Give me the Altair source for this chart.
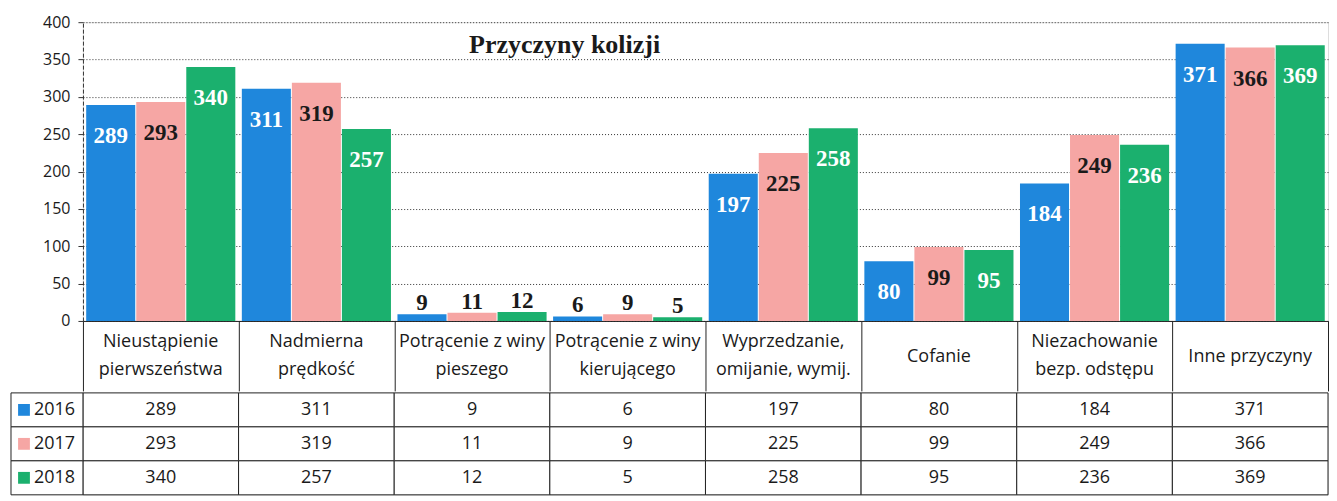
import altair as alt
import pandas as pd

# ---- data ----
categories = [
    "Nieustąpienie\npierwszeństwa",
    "Nadmierna\nprędkość",
    "Potrącenie z winy\npieszego",
    "Potrącenie z winy\nkierującego",
    "Wyprzedzanie,\nomijanie, wymij.",
    "Cofanie",
    "Niezachowanie\nbezp. odstępu",
    "Inne przyczyny",
]
years = ["2016", "2017", "2018"]
v2016 = [289, 311, 9, 6, 197, 80, 184, 371]
v2017 = [293, 319, 11, 9, 225, 99, 249, 366]
v2018 = [340, 257, 12, 5, 258, 95, 236, 369]
y_ticks = [0, 50, 100, 150, 200, 250, 300, 350, 400]
title_text = "Przyczyny kolizji"

# ---- styling ----
colors = ["#1f87dc", "#f6a6a4", "#1bb06e"]
ink = "#1a1a1a"
W = 1246
H = 299
HEADER = 70
ROWS_H = 102
LEFT = 72

rows = []
for yr, vals in zip(years, [v2016, v2017, v2018]):
    for c, v in zip(categories, vals):
        rows.append({"category": c, "year": yr, "value": v})
df = pd.DataFrame(rows)

color_scale = alt.Scale(domain=years, range=colors)
cat_scale = alt.Scale(domain=categories, paddingInner=0, paddingOuter=0)

# x axis draws the header row of the table: its domain is the top border and
# its (band-extent) ticks are the column separators; labels are drawn as text marks
x_axis = alt.Axis(
    title=None, orient="bottom", labels=False,
    tickSize=HEADER, tickBand="extent", tickColor="#222", tickWidth=1,
    domainColor="#222", domainWidth=1, grid=False,
)
y_axis = alt.Axis(
    title=None, values=y_ticks,
    labelFont="Open Sans", labelFontSize=16, labelColor=ink, labelPadding=8,
    tickSize=5, tickColor="#333",
    domainColor="#333", domainDash=[4, 2],
    grid=True, gridColor="#333", gridDash=[1, 2], gridWidth=1,
    minExtent=LEFT, maxExtent=LEFT,
)
x_enc = alt.X("category:N", sort=categories, scale=cat_scale, axis=x_axis)

base = alt.Chart(df).encode(
    x=x_enc,
    xOffset=alt.XOffset("year:N", sort=years,
                        scale=alt.Scale(domain=years, paddingInner=0.02, paddingOuter=0.065)),
    y=alt.Y("value:Q", scale=alt.Scale(domain=[0, 400]), axis=y_axis),
)

bars = base.mark_bar().encode(color=alt.Color("year:N", scale=color_scale, legend=None))

inside = base.transform_filter(alt.datum.value >= 50).mark_text(
    font="Liberation Serif", fontSize=23, fontWeight="bold", baseline="middle", dy=31
).encode(
    text="value:Q",
    color=alt.condition(alt.datum.year == "2017", alt.value(ink), alt.value("white")),
)
outside = base.transform_filter(alt.datum.value < 50).mark_text(
    font="Liberation Serif", fontSize=23, fontWeight="bold", baseline="middle", dy=-11,
    color=ink,
).encode(text="value:Q")

# header labels (category names), centred in the header row below the plot
head_df = pd.DataFrame({"category": categories})
head_base = alt.Chart(head_df).transform_calculate(
    nlines="length(split(datum.category, '\\n'))"
).encode(x=x_enc, text="category:N")
head_two = head_base.transform_filter(alt.datum.nlines > 1).mark_text(
    font="Open Sans", fontSize=18, color=ink, baseline="middle",
    lineBreak="\n", lineHeight=28,
).encode(y=alt.value(H + 21))
head_one = head_base.transform_filter(alt.datum.nlines == 1).mark_text(
    font="Open Sans", fontSize=18, color=ink, baseline="middle",
).encode(y=alt.value(H + 36))

title_df = pd.DataFrame({"t": [title_text]})
title = alt.Chart(title_df).mark_text(
    font="Liberation Serif", fontSize=26, fontWeight="bold", color=ink,
    align="center", baseline="alphabetic",
).encode(text="t:N", x=alt.value(482), y=alt.value(31))

top = alt.layer(bars, inside, outside, head_two, head_one, title).properties(width=W, height=H)

# ---- data table (legend column drawn left of the table's plot area) ----
tbl_base = alt.Chart(df).encode(
    x=alt.X("category:N", sort=categories, scale=cat_scale, axis=None),
    y=alt.Y("year:N", sort=years,
            scale=alt.Scale(domain=years, paddingInner=0, paddingOuter=0), axis=None),
)
tbl_cells = tbl_base.mark_rect(fill="white", stroke="#222", strokeWidth=1)
tbl_text = tbl_base.mark_text(font="Open Sans", fontSize=18, color=ink).encode(text="value:Q")

leg_df = pd.DataFrame({"year": years})
leg_base = alt.Chart(leg_df).encode(y=alt.Y("year:N", sort=years))
leg_cells = leg_base.mark_rect(fill="white", stroke="#222", strokeWidth=1).encode(
    x=alt.value(-LEFT), x2=alt.value(0)
)
leg_keys = leg_base.mark_square(size=140, opacity=1).encode(
    x=alt.value(-59), color=alt.Color("year:N", scale=color_scale, legend=None)
)
leg_text = leg_base.mark_text(align="left", font="Open Sans", fontSize=18, color=ink).encode(
    x=alt.value(-49), text="year:N"
)

table = alt.layer(tbl_cells, tbl_text, leg_cells, leg_keys, leg_text).properties(
    width=W, height=ROWS_H
)

chart = alt.vconcat(top, table, spacing=0).properties(
    padding={"left": 2, "top": 5, "right": 0, "bottom": 0}
).configure_view(strokeWidth=0).configure(font="Open Sans")

chart.save("out.html", embed_options={"renderer": "svg", "actions": False})
